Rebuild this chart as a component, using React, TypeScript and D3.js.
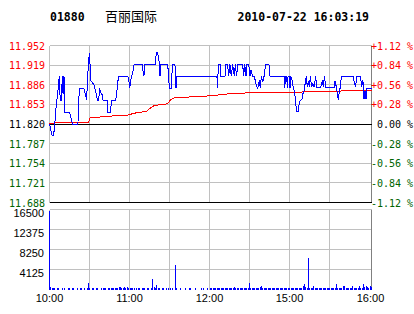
import React from 'react';
import * as d3 from 'd3';

const W = 414;
const H = 314;

const stockCode = '01880';
const stockName = '百丽国际';
const timestamp = '2010-07-22 16:03:19';

const priceTicks = ['11.952', '11.919', '11.886', '11.853', '11.820', '11.787', '11.754', '11.721', '11.688'];
const pctTicks = ['+1.12 %', '+0.84 %', '+0.56 %', '+0.28 %', ' 0.00 %', '-0.28 %', '-0.56 %', '-0.84 %', '-1.12 %'];
const volumeTicks = ['16500', '12375', '8250', '4125'];
const timeLabels = ['10:00', '11:00', '12:00', '15:00', '16:00'];

const priceMinutes = [
  0, 2, 3, 4, 4.5, 5.5, 6.5, 7.3, 8, 8.8, 9.6, 10.1, 10.8, 11.3, 15, 16, 17.3, 21.2, 21.7, 22.5,
  25.5, 26.7, 27.7, 28.2, 29, 29.7, 30.2, 30.7, 31.7, 33, 33.7, 34.9, 35.7, 36.6, 37.4, 38.1, 39.1, 39.9, 43.1, 43.6,
  45.6, 46.1, 49.3, 50.1, 50.6, 51.6, 58.5, 59.3, 59.8, 60.5, 61.5, 62.3, 63, 69, 69.7, 70.4, 70.9, 78.9, 79.6, 80.6,
  81.4, 81.9, 82.4, 82.9, 88.1, 88.8, 89.3, 90.6, 91.1, 91.8, 93.5, 94.3, 95, 124.8, 125.3, 125.8, 127.1, 127.8, 130.8, 131.5,
  132.8, 133.5, 134.5, 135.5, 136.5, 137.8, 138.5, 139.5, 140.2, 144, 144.7, 145.5, 146.5, 147.2, 148.5, 149.4, 150.2, 151.4, 152.7, 153.9,
  155.2, 156.4, 157.1, 157.9, 158.9, 159.9, 161.1, 163.6, 164.4, 174.8, 175.3, 176.0, 176.8, 177.3, 177.8, 178.8, 179.3, 179.8, 180.8, 181.7,
  182.7, 183.5, 184.2, 185.5, 186.2, 187.2, 188.2, 188.9, 189.7, 190.7, 191.4, 192.2, 192.9, 193.7, 194.4, 195.4, 196.4, 197.1, 198.4, 199.1,
  202.1, 203.4, 204.1, 204.9, 205.9, 212.1, 212.8, 213.8, 214.6, 215.3, 216.1, 216.8, 217.5, 226.5, 227.2, 228.2, 228.9, 231.9, 232.6, 233.6,
  234.4, 235.1, 235.9, 236.4, 240,
];
const prices = [
  11.82, 11.80, 11.80, 11.82, 11.84, 11.86, 11.88, 11.90, 11.86, 11.86, 11.90, 11.87, 11.90, 11.84, 11.84, 11.83, 11.82, 11.82, 11.86, 11.88,
  11.88, 11.87, 11.86, 11.89, 11.92, 11.94, 11.92, 11.893, 11.89, 11.887, 11.88, 11.87, 11.86, 11.86, 11.88, 11.873, 11.87, 11.86, 11.86, 11.84,
  11.84, 11.86, 11.86, 11.87, 11.887, 11.90, 11.90, 11.89, 11.88, 11.894, 11.903, 11.909, 11.92, 11.92, 11.909, 11.90, 11.92, 11.92, 11.94, 11.94,
  11.93, 11.92, 11.90, 11.92, 11.92, 11.90, 11.88, 11.88, 11.90, 11.92, 11.92, 11.88, 11.90, 11.90, 11.88, 11.92, 11.92, 11.90, 11.90, 11.92,
  11.92, 11.90, 11.92, 11.90, 11.92, 11.90, 11.92, 11.90, 11.92, 11.92, 11.90, 11.92, 11.90, 11.92, 11.92, 11.90, 11.91, 11.90, 11.90, 11.887,
  11.88, 11.894, 11.88, 11.90, 11.89, 11.90, 11.92, 11.92, 11.90, 11.90, 11.88, 11.90, 11.90, 11.88, 11.90, 11.90, 11.88, 11.90, 11.893, 11.882,
  11.874, 11.854, 11.841, 11.841, 11.857, 11.86, 11.862, 11.871, 11.876, 11.89, 11.90, 11.882, 11.893, 11.882, 11.90, 11.882, 11.888, 11.882, 11.90, 11.882,
  11.882, 11.893, 11.882, 11.90, 11.882, 11.882, 11.893, 11.882, 11.871, 11.86, 11.876, 11.882, 11.90, 11.90, 11.888, 11.882, 11.90, 11.90, 11.882, 11.893,
  11.862, 11.876, 11.862, 11.879, 11.879,
];

const avgMinutes = [0, 5, 29, 30, 43, 58, 65, 72, 76, 78, 88, 90, 93, 109, 125, 127, 140, 150, 182, 190, 217, 218, 240];
const avgPrices = [
  11.82, 11.822, 11.822, 11.83, 11.833, 11.835, 11.839, 11.841, 11.848, 11.851, 11.854, 11.86, 11.864, 11.866, 11.868, 11.87,
  11.871, 11.873, 11.873, 11.874, 11.875, 11.877, 11.877,
];

const volumes = [
  16100,
  500, 400, 300, 350, 0, 300, 400, 0, 0, 350,
  300, 0, 0, 250, 300, 0, 300, 350, 0, 0,
  300, 0, 250, 300, 0, 300, 0, 350, 1400, 400,
  0, 300, 300, 0, 350, 300, 0, 0, 300, 300,
  350, 300, 0, 300, 400, 300, 350, 400, 300, 350,
  400, 500, 450, 400, 350, 500, 400, 450, 400, 300,
  400, 300, 350, 0, 400, 300, 350, 0, 300, 400,
  300, 0, 350, 300, 0, 300, 2200, 500, 300, 900,
  400, 300, 0, 350, 300, 0, 300, 0, 300, 350,
  0, 300, 0, 5100, 300, 0, 0, 300, 0, 0,
  300, 0, 0, 350, 300, 0, 0, 0, 300, 0,
  0, 0, 300, 0, 350, 0, 0, 400, 0, 300,
  350, 300, 300, 350, 300, 300, 400, 350, 300, 300,
  350, 300, 400, 350, 300, 300, 350, 500, 400, 300,
  350, 300, 400, 350, 300, 350, 400, 300, 1400, 400,
  300, 350, 300, 400, 350, 300, 500, 700, 350, 300,
  350, 300, 400, 300, 350, 300, 300, 350, 400, 300,
  350, 300, 300, 350, 300, 350, 400, 300, 350, 300,
  300, 400, 350, 300, 350, 300, 400, 350, 700, 1170,
  500, 400, 6600, 300, 350, 400, 700, 350, 300, 350,
  300, 400, 350, 300, 350, 300, 300, 400, 350, 300,
  350, 400, 300, 1170, 350, 300, 400, 350, 700, 700,
  350, 300, 400, 350, 300, 700, 350, 300, 400, 300,
  700, 350, 400, 1170, 500, 800, 600, 400, 700, 500,
];

const L = 49.5;
const R = 371.5;
const PT = 45.5;
const PB = 202.5;
const VT = 209.5;
const VB = 289.5;

const GRID = '#c0c0c0';
const RED = '#ff0000';
const GREEN = '#006400';
const MONO = '"DejaVu Sans Mono", monospace';
const SANS = '"Liberation Sans", Arial, sans-serif';

export default function App() {
  const x = d3.scaleLinear().domain([0, 240]).range([L, R]);
  const xGrid = d3.scaleLinear().domain([0, 8]).range([L, L + 320]);
  const y = d3.scaleLinear().domain([11.688, 11.952]).range([PB, PT]);
  const yTick = d3.scaleLinear().domain([0, 8]).range([PT, PB]);
  const yV = d3.scaleLinear().domain([0, 16500]).range([VB, VT]);

  const priceLine = d3
    .line<number>()
    .x((_, i) => x(priceMinutes[i]))
    .y((d) => y(d))(prices) as string;
  const avgLine = d3
    .line<number>()
    .x((_, i) => x(avgMinutes[i]))
    .y((d) => y(d))(avgPrices) as string;

  const labelColor = (i: number) => (i < 4 ? RED : i === 4 ? '#000' : GREEN);

  return (
    <svg
      width={W}
      height={H}
      style={{ position: 'absolute', left: 0, top: 0, display: 'block', background: '#fff' }}
    >
      <rect x={0} y={0} width={W} height={H} fill="#fff" />
      {/* header */}
      <text x={50} y={20.5} fontFamily={MONO} fontWeight="bold" fontSize={11.5} fill="#000">
        {stockCode}
      </text>
      <text x={105} y={20.5} fontFamily='"Noto Sans CJK SC", sans-serif' fontSize={13} fill="#000">
        {stockName}
      </text>
      <text x={237.5} y={20.5} fontFamily={MONO} fontWeight="bold" fontSize={11.5} fill="#000">
        {timestamp}
      </text>

      <g shapeRendering="crispEdges">
        {/* price panel horizontal grid */}
        {priceTicks.map((_, i) => (
          <line key={'ph' + i} x1={L} x2={R} y1={yTick(i)} y2={yTick(i)} stroke={GRID} />
        ))}
        {/* vertical grid */}
        {d3.range(1, 8).map((k) => (
          <line key={'pv' + k} x1={xGrid(k)} x2={xGrid(k)} y1={PT} y2={PB} stroke={GRID} />
        ))}
        {d3.range(1, 8).map((k) => (
          <line key={'vv' + k} x1={xGrid(k)} x2={xGrid(k)} y1={VT} y2={VB} stroke={GRID} />
        ))}
        {/* volume grid */}
        {volumeTicks.map((_, i) => (
          <line key={'vh' + i} x1={L} x2={R} y1={VT + i * 20} y2={VT + i * 20} stroke={GRID} />
        ))}
        {/* borders */}
        <line x1={L} x2={L} y1={PT} y2={PB} stroke={GRID} />
        <line x1={R} x2={R} y1={PT} y2={PB} stroke="#808080" />
        <line x1={L} x2={L} y1={VT} y2={VB} stroke={GRID} />
        <line x1={R} x2={R} y1={VT} y2={VB} stroke="#808080" />
        <line x1={L} x2={R} y1={y(11.82)} y2={y(11.82)} stroke="#000" />
        <line x1={L} x2={R} y1={PB} y2={PB} stroke="#000" />

        {/* volume bars */}
        {volumes.map((v, i) =>
          v > 0 ? (
            <rect
              key={'b' + i}
              x={Math.floor(x(i))}
              y={yV(v)}
              width={1}
              height={VB - yV(v)}
              fill="#0000ff"
            />
          ) : null
        )}

        <path d={avgLine} fill="none" stroke={RED} strokeWidth={1} />
        <path d={priceLine} fill="none" stroke="#0000ff" strokeWidth={1} />
      </g>

      {/* left price labels */}
      {priceTicks.map((t, i) => (
        <text
          key={'pl' + i}
          x={45}
          y={yTick(i) + 4}
          textAnchor="end"
          fontFamily={MONO}
          fontSize={10}
          fill={labelColor(i)}
        >
          {t}
        </text>
      ))}
      {/* right pct labels */}
      {pctTicks.map((t, i) => (
        <text
          key={'pr' + i}
          x={371}
          y={yTick(i) + 4}
          fontFamily={MONO}
          fontSize={10}
          fill={labelColor(i)}
          style={{ whiteSpace: 'pre' }}
        >
          {t}
        </text>
      ))}
      {/* volume labels */}
      {volumeTicks.map((t, i) => (
        <text
          key={'vl' + i}
          x={44}
          y={VT + i * 20 + 7.5}
          textAnchor="end"
          fontFamily={SANS}
          fontSize={11}
          fill="#000"
        >
          {t}
        </text>
      ))}
      {/* time labels */}
      {timeLabels.map((t, i) => (
        <text
          key={'tl' + i}
          x={xGrid(i * 2) + (i === 4 ? 1 : 0)}
          y={302}
          textAnchor="middle"
          fontFamily={SANS}
          fontSize={11}
          fill="#000"
        >
          {t}
        </text>
      ))}
    </svg>
  );
}
